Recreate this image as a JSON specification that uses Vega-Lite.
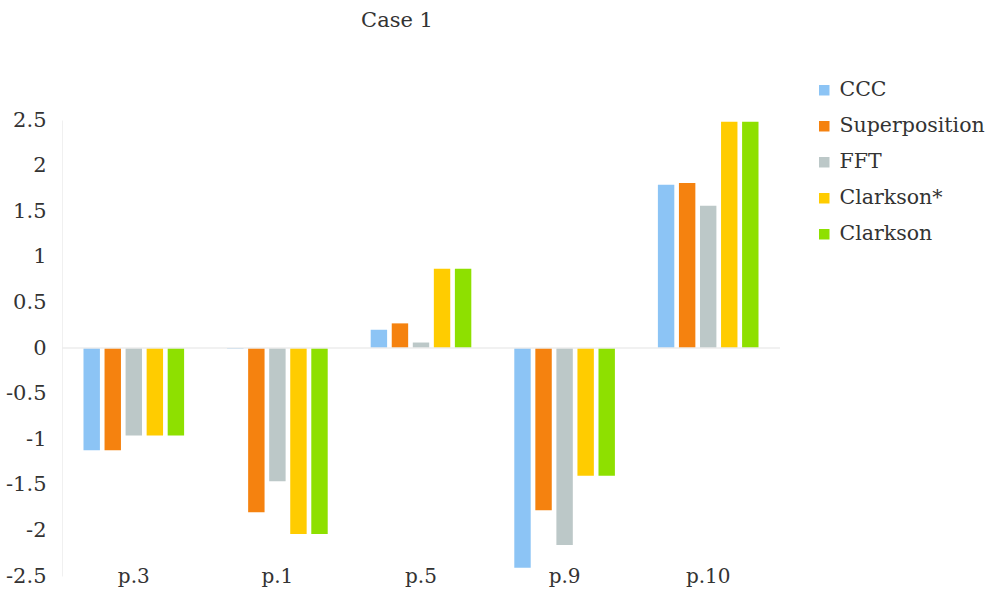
{
  "$schema": "https://vega.github.io/schema/vega-lite/v6.json",
  "width": 718,
  "height": 456,
  "autosize": {"type": "none"},
  "padding": {"left": 62, "top": 120, "right": 220, "bottom": 22},
  "background": "white",
  "config": {"view": {"stroke": null}},
  "title": {"text": "Case 1", "font": "DejaVu Serif", "fontSize": 21, "fontWeight": "normal", "color": "#333333", "anchor": "middle", "dx": -24, "offset": 49},
  "data": {"values": [
    {"cat": "p.3", "method": "CCC", "value": -1.12},
    {"cat": "p.3", "method": "Superposition", "value": -1.12},
    {"cat": "p.3", "method": "FFT", "value": -0.96},
    {"cat": "p.3", "method": "Clarkson*", "value": -0.96},
    {"cat": "p.3", "method": "Clarkson", "value": -0.96},
    {"cat": "p.1", "method": "CCC", "value": -0.01},
    {"cat": "p.1", "method": "Superposition", "value": -1.8},
    {"cat": "p.1", "method": "FFT", "value": -1.46},
    {"cat": "p.1", "method": "Clarkson*", "value": -2.04},
    {"cat": "p.1", "method": "Clarkson", "value": -2.04},
    {"cat": "p.5", "method": "CCC", "value": 0.2},
    {"cat": "p.5", "method": "Superposition", "value": 0.27},
    {"cat": "p.5", "method": "FFT", "value": 0.06},
    {"cat": "p.5", "method": "Clarkson*", "value": 0.87},
    {"cat": "p.5", "method": "Clarkson", "value": 0.87},
    {"cat": "p.9", "method": "CCC", "value": -2.41},
    {"cat": "p.9", "method": "Superposition", "value": -1.78},
    {"cat": "p.9", "method": "FFT", "value": -2.16},
    {"cat": "p.9", "method": "Clarkson*", "value": -1.4},
    {"cat": "p.9", "method": "Clarkson", "value": -1.4},
    {"cat": "p.10", "method": "CCC", "value": 1.79},
    {"cat": "p.10", "method": "Superposition", "value": 1.81},
    {"cat": "p.10", "method": "FFT", "value": 1.56},
    {"cat": "p.10", "method": "Clarkson*", "value": 2.48},
    {"cat": "p.10", "method": "Clarkson", "value": 2.48}
  ]},
  "layer": [
    {
      "mark": {"type": "bar"},
      "encoding": {
        "x": {"field": "cat", "type": "nominal", "sort": ["p.3", "p.1", "p.5", "p.9", "p.10"],
              "scale": {"paddingInner": 0.27, "paddingOuter": 0.135},
              "axis": {"title": null, "labelAngle": 0, "domain": false, "ticks": false, "labelPadding": -10,
                       "labelFont": "DejaVu Serif", "labelFontSize": 20, "labelColor": "#333333"}},
        "xOffset": {"field": "method", "type": "nominal", "sort": ["CCC", "Superposition", "FFT", "Clarkson*", "Clarkson"],
                    "scale": {"paddingInner": 0.22, "paddingOuter": 0.1}},
        "y": {"field": "value", "type": "quantitative",
              "scale": {"domain": [-2.5, 2.5], "nice": false},
              "axis": {"title": null, "values": [-2.5, -2, -1.5, -1, -0.5, 0, 0.5, 1, 1.5, 2, 2.5],
                       "labelExpr": "datum.value < 0 ? '-' + format(-datum.value, '~g') : format(datum.value, '~g')",
                       "grid": false, "ticks": false, "domainColor": "#f0f0f0", "labelPadding": 16,
                       "labelFont": "DejaVu Serif", "labelFontSize": 21, "labelColor": "#333333"}},
        "color": {"field": "method", "type": "nominal",
                  "sort": ["CCC", "Superposition", "FFT", "Clarkson*", "Clarkson"],
                  "scale": {"domain": ["CCC", "Superposition", "FFT", "Clarkson*", "Clarkson"],
                            "range": ["#8cc4f5", "#f5820f", "#bcc8c8", "#ffcc00", "#8ee000"]},
                  "legend": {"title": null, "orient": "none", "legendX": 752, "legendY": -40,
                             "symbolType": "square", "symbolSize": 110, "symbolStrokeWidth": 0,
                             "labelFont": "DejaVu Serif", "labelFontSize": 20.5, "labelColor": "#333333",
                             "rowPadding": 15, "labelOffset": 5}}
      }
    },
    {
      "data": {"values": [{"z": 0}]},
      "mark": {"type": "rule", "color": "#ececec", "strokeWidth": 1.5},
      "encoding": {"y": {"field": "z", "type": "quantitative"}}
    }
  ]
}
